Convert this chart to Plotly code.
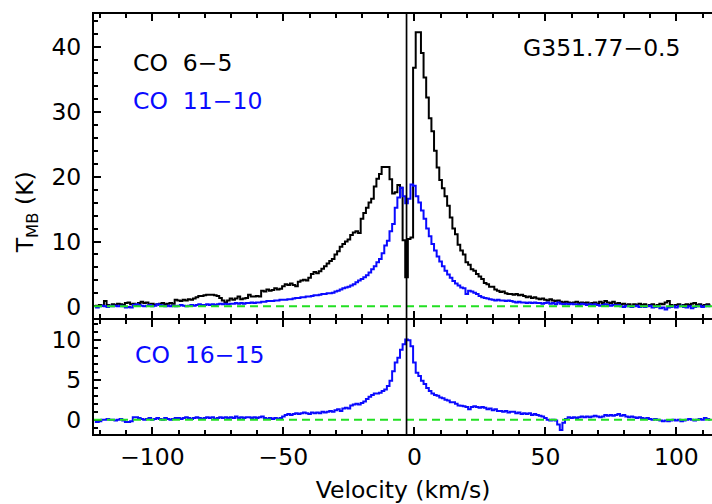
import numpy as np
import plotly.graph_objects as go

# channel velocities (km/s), 1 km/s channels
v_start, v_step, n_chan = -122, 1, 236
velocity = [v_start + i * v_step for i in range(n_chan)]

co65 = [
    0.1, 0.0, 0.2, 0.1, 0.8, 0.2, 0.1, 0.3, 0.2, 0.4,
    0.3, 0.2, 0.5, 0.6, 0.3, 0.4, 0.2, 0.5, 0.7, 0.5,
    0.6, 0.3, 0.4, 0.2, 0.3, 0.4, 0.5, 0.3, 0.4, 0.5,
    0.4, 1.0, 0.9, 0.8, 1.0, 0.9, 1.1, 1.0, 1.2, 1.4,
    1.6, 1.6, 1.7, 1.8, 1.8, 1.8, 1.7, 1.6, 1.3, 0.9,
    0.6, 0.9, 1.2, 1.0, 1.2, 1.5, 1.1, 1.2, 1.3, 1.8,
    1.5, 1.5, 1.6, 1.5, 2.4, 2.3, 2.6, 2.4, 2.5, 2.8,
    2.6, 2.7, 3.1, 3.4, 3.3, 3.5, 3.3, 3.1, 3.8, 4.0,
    4.1, 4.0, 4.4, 5.0, 5.3, 5.1, 5.4, 5.8, 6.2, 6.6,
    7.0, 7.3, 8.0, 8.5, 9.2, 9.6, 10.0, 10.3, 11.0, 11.4,
    11.6, 11.3, 13.5, 14.4, 15.2, 16.0, 16.6, 18.5, 19.7, 20.4,
    21.5, 21.5, 21.5, 19.6, 17.4, 17.6, 18.7, 18.3, 10.2, 4.5,
    10.4, 10.6, 36.8, 42.3, 42.3, 39.1, 35.3, 32.2, 29.0, 27.0,
    24.0, 21.4, 19.5, 18.2, 17.0, 15.5, 13.7, 12.0, 11.1, 9.5,
    8.6, 8.0, 6.8, 6.4, 5.7, 5.5, 5.0, 4.6, 4.2, 3.6,
    3.4, 3.0, 3.0, 2.6, 2.4, 2.2, 2.3, 2.0, 1.9, 1.9,
    1.8, 1.9, 1.7, 1.8, 1.6, 1.4, 1.5, 1.3, 1.4, 1.2,
    1.1, 1.2, 1.0, 0.9, 1.1, 0.9, 0.8, 0.9, 0.7, 0.6,
    0.7, 0.6, 0.5, 0.6, 0.7, 0.5, 0.6, 0.5, 0.6, 0.4,
    0.5, 0.6, 0.4, 0.7, 0.5, 0.8, 0.6, 0.5, 0.7, 0.4,
    0.5, 0.3, 0.4, 0.2, 0.3, 0.1, 0.3, 0.2, 0.4, 0.2,
    0.3, 0.1, 0.2, 0.3, 0.1, 0.2, 0.4, 0.3, 0.6, 0.8,
    0.2, 0.1, 0.2, 0.3, 0.1, 0.2, 0.3, 0.2, 0.4, 0.5,
    0.2, 0.3, 0.1, 0.2, 0.3, 0.2,
]

co1110 = [
    0.0, -0.2, 0.0, 0.1, 0.0, -0.1, 0.1, 0.0, 0.1, 0.0,
    0.1, 0.0, -0.2, -0.1, -0.2, 0.2, 0.3, 0.2, 0.1, 0.0,
    0.1, 0.2, 0.0, 0.1, 0.3, 0.2, 0.1, 0.0, 0.1, 0.0,
    0.1, 0.0, 0.1, 0.2, 0.1, 0.0, 0.1, 0.2, 0.1, 0.2,
    0.3, 0.2, 0.2, 0.3, 0.2, 0.3, 0.2, 0.3, 0.4, 0.3,
    0.4, 0.3, 0.4, 0.4, 0.5, 0.4, 0.5, 0.4, 0.5, 0.5,
    0.6, 0.5, 0.6, 0.6, 0.7, 0.7, 0.8, 0.8, 0.8, 0.9,
    0.9, 1.0, 1.0, 1.0, 1.1, 1.1, 1.2, 1.3, 1.3, 1.4,
    1.4, 1.5, 1.5, 1.6, 1.7, 1.7, 1.8, 1.9, 1.9, 2.0,
    2.0, 2.1, 2.3, 2.4, 2.6, 2.8, 2.9, 3.0, 3.2, 3.4,
    3.7, 4.0, 4.2, 4.5, 4.8, 5.2, 5.7, 6.2, 6.8, 7.3,
    8.2, 9.4, 10.1, 11.6, 12.7, 15.2, 16.8, 18.3, 17.0, 15.9,
    16.6, 18.8, 18.6, 17.0, 16.0, 14.8, 13.5, 12.0, 10.8, 9.6,
    8.6, 7.7, 6.9, 6.2, 5.5, 4.9, 4.4, 3.9, 3.5, 3.2,
    2.9, 2.8, 1.9, 2.4, 2.3, 2.1, 1.9, 1.6, 1.4, 1.3,
    1.2, 1.1, 1.0, 0.9, 1.0, 0.9, 0.9, 0.8, 0.9, 0.8,
    0.7, 0.6, 0.7, 0.6, 0.6, 0.5, 0.6, 0.5, 0.6, 0.5,
    0.5, 0.4, 0.5, 0.6, 0.4, 0.5, 0.3, 0.6, 0.4, 0.3,
    0.4, 0.3, 0.4, 0.3, 0.3, 0.2, 0.4, 0.3, 0.2, 0.3,
    0.2, 0.3, 0.2, 0.1, 0.2, 0.3, 0.2, 0.1, 0.2, 0.1,
    0.2, 0.0, -0.1, 0.1, 0.0, -0.1, 0.0, 0.1, -0.1, 0.0,
    -0.1, 0.0, 0.1, -0.2, -0.1, 0.0, -0.3, -0.2, -0.5, -0.2,
    -0.1, 0.0, -0.2, 0.0, 0.1, -0.1, -0.2, 0.0, -0.3, -0.1,
    0.0, 0.1, -0.1, 0.0, 0.1, 0.0,
]

co1615 = [
    -0.3, -0.3, -0.2, 0.0, 0.0, 0.1, 0.0, 0.0, -0.1, 0.0,
    0.1, -0.1, -0.3, -0.3, -0.2, 0.3, 0.3, 0.2, 0.1, 0.0,
    0.1, 0.2, 0.0, 0.1, 0.2, 0.1, 0.0, 0.2, 0.1, 0.0,
    0.1, 0.2, 0.2, 0.1, 0.2, 0.3, 0.2, 0.1, 0.2, 0.3,
    0.2, 0.1, 0.2, 0.3, 0.2, 0.3, 0.1, 0.2, 0.3, 0.2,
    0.3, 0.2, 0.3, 0.2, 0.4, 0.2, 0.3, 0.2, 0.3, 0.3,
    0.2, 0.3, 0.2, 0.3, 0.4, 0.2, 0.1, 0.2, 0.1, 0.2,
    0.1, 0.2, 0.4, 0.6, 0.7, 0.6, 0.7, 0.8, 0.7, 0.8,
    0.9, 0.8, 0.7, 0.9, 0.8, 0.9, 0.8, 1.0, 0.9, 1.0,
    1.1, 1.0, 1.2, 1.3, 1.1, 1.4, 1.5, 1.4, 1.8, 1.9,
    2.0, 1.9, 2.1, 2.3, 2.6, 2.9, 3.1, 3.3, 3.3, 3.4,
    3.6, 3.8, 4.25, 4.9, 6.1, 7.2, 7.8, 8.8, 9.5, 10.1,
    10.0, 9.25, 7.2, 5.9, 5.5, 4.9, 4.5, 4.0, 3.6, 3.3,
    3.1, 3.0, 2.8, 2.7, 2.5, 2.4, 2.2, 2.2, 2.0, 1.8,
    1.75, 1.7, 1.6, 1.3, 1.6, 1.7, 1.6, 1.5, 1.6, 1.5,
    1.3, 1.4, 1.2, 1.3, 1.1, 1.1, 1.0, 1.1, 0.9, 1.0,
    1.0, 0.8, 0.9, 0.7, 0.8, 0.7, 0.8, 0.6, 0.7, 0.6,
    0.5, 0.4, 0.2, 0.0, -0.1, 0.0, -0.1, -0.6, -1.3, -0.4,
    0.1, 0.3, 0.2, 0.3, 0.2, 0.3, 0.4, 0.3, 0.4, 0.3,
    0.4, 0.5, 0.4, 0.3, 0.4, 0.6, 0.5, 0.6, 0.5, 0.6,
    0.7, 0.5, 0.6, 0.4, 0.3, 0.4, 0.3, 0.2, 0.3, 0.2,
    0.1, 0.2, 0.1, 0.0, 0.1, 0.0, -0.1, -0.2, -0.1, -0.2,
    -0.1, 0.0, -0.1, 0.0, -0.2, -0.1, 0.0, 0.1, 0.0, -0.1,
    0.0, 0.1, 0.0, 0.2, 0.1, 0.0,
]

v_sys = -3.0
x_range = [-122.3, 113.6]
top_range = [-1.85, 45.1]
bot_range = [-1.8, 12.5]
top_ticks = [0, 10, 20, 30, 40]
bot_ticks = [0, 5, 10]
x_ticks = [-100, -50, 0, 50, 100]

FONT = "DejaVu Sans"
FS = 23.5
BLUE = "#0a0aff"
GREEN = "#22e022"

W, H = 712, 504
ml, mr, mt, mb = 94, 0, 13.7, 70.3
plot_h = H - mt - mb
bottom_px = H - mb
# top panel bottom edge at 318 px, bottom panel top edge at 320 px, so the
# two outward-drawn 2 px axis lines coincide
top_dom0 = (bottom_px - 318.0) / plot_h
bot_dom1 = (bottom_px - 320.0) / plot_h

fig = go.Figure()
fig.add_trace(go.Scatter(x=velocity, y=co65, mode="lines", line=dict(color="black", width=2, shape="hvh"),
                         xaxis="x2", yaxis="y2", showlegend=False))
fig.add_trace(go.Scatter(x=velocity, y=co1110, mode="lines", line=dict(color=BLUE, width=2, shape="hvh"),
                         xaxis="x2", yaxis="y2", showlegend=False))
fig.add_trace(go.Scatter(x=velocity, y=co1615, mode="lines", line=dict(color=BLUE, width=2, shape="hvh"),
                         xaxis="x", yaxis="y", showlegend=False))

common_x = dict(range=x_range, tickvals=x_ticks, ticks="inside", ticklen=7, tickwidth=2,
                tickcolor="black", showline=True, linewidth=2, linecolor="black", mirror="ticks",
                showgrid=False, zeroline=False,
                minor=dict(dtick=10, tick0=0, ticks="inside", ticklen=4, tickwidth=1.5, tickcolor="black"),
                tickfont=dict(family=FONT, size=FS, color="black"))
common_y = dict(ticks="inside", ticklen=7, tickwidth=2, tickcolor="black", showline=True, linewidth=2,
                linecolor="black", mirror=False, showgrid=False, zeroline=False,
                tickfont=dict(family=FONT, size=FS, color="black"), ticklabelstandoff=6)

fig.update_layout(
    width=W, height=H, margin=dict(l=ml, r=mr, t=mt, b=mb),
    paper_bgcolor="white", plot_bgcolor="white", showlegend=False,
    xaxis=dict(**common_x, anchor="y", domain=[0, 1],
               title=dict(text="Velocity (km/s)", font=dict(family=FONT, size=FS, color="black"), standoff=11),
               ticklabelstandoff=1),
    xaxis2=dict(**common_x, anchor="y2", matches="x", showticklabels=False, domain=[0, 1]),
    yaxis=dict(**common_y, anchor="x", domain=[0, bot_dom1], range=bot_range, tickvals=bot_ticks,
               minor=dict(dtick=1, tick0=0, ticks="inside", ticklen=4, tickwidth=1.5, tickcolor="black")),
    yaxis2=dict(**common_y, anchor="x2", domain=[top_dom0, 1], range=top_range, tickvals=top_ticks,
                minor=dict(dtick=2, tick0=0, ticks="inside", ticklen=4, tickwidth=1.5, tickcolor="black")),
)

# zero baselines
for yref in ("y", "y2"):
    fig.add_shape(type="line", xref="paper", yref=yref, x0=0, x1=1, y0=0, y1=0,
                  line=dict(color=GREEN, width=2, dash="8px,5px"), layer="above")
# systemic velocity marker
fig.add_shape(type="line", xref="x", yref="paper", x0=v_sys, x1=v_sys, y0=0, y1=1,
              line=dict(color="black", width=1.7), layer="above")

def px_x(px):
    return (px - ml) / (W - ml - mr)

def px_y(py):
    return (bottom_px - py) / plot_h

ann_font = dict(family=FONT, size=FS)
fig.add_annotation(text="CO\u00a0\u00a06\u22125", x=px_x(131), y=px_y(62.5), xref="paper", yref="paper",
                   xanchor="left", yanchor="middle", showarrow=False, font=dict(**ann_font, color="black"))
fig.add_annotation(text="CO\u00a0\u00a011\u221210", x=px_x(131), y=px_y(101), xref="paper", yref="paper",
                   xanchor="left", yanchor="middle", showarrow=False, font=dict(**ann_font, color=BLUE))
fig.add_annotation(text="G351.77\u22120.5", x=px_x(683), y=px_y(48), xref="paper", yref="paper",
                   xanchor="right", yanchor="middle", showarrow=False, font=dict(**ann_font, color="black"))
fig.add_annotation(text="CO\u00a0\u00a016\u221215", x=px_x(133), y=px_y(355), xref="paper", yref="paper",
                   xanchor="left", yanchor="middle", showarrow=False, font=dict(**ann_font, color=BLUE))
fig.add_annotation(text="T<sub>MB</sub> (K)", x=px_x(26), y=px_y(212), xref="paper", yref="paper",
                   xanchor="center", yanchor="middle", textangle=-90, showarrow=False,
                   font=dict(**ann_font, color="black"))

fig.write_html("out.html")
